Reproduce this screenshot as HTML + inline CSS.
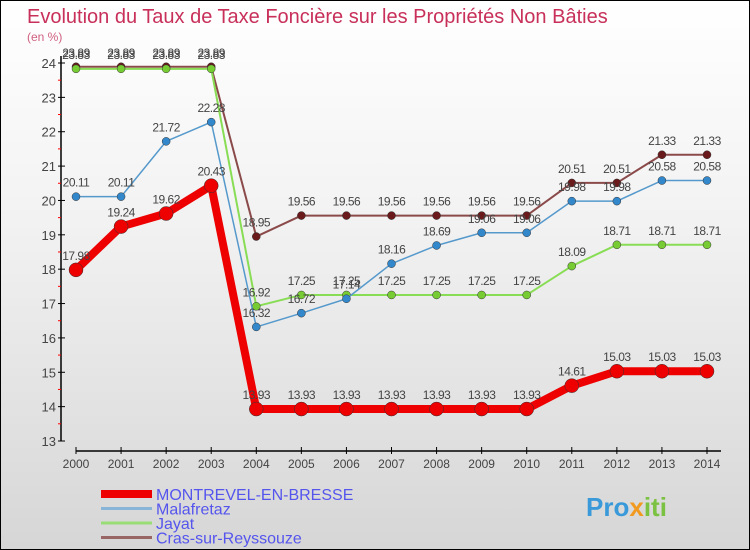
<!DOCTYPE html>
<html><head><meta charset="utf-8"><style>
body{margin:0;}
#c{width:750px;height:550px;position:relative;overflow:hidden;background:linear-gradient(#ffffff,#f2f2f2 40%,#d6d6d6);box-sizing:border-box;border:1px solid #000;font-family:"Liberation Sans",sans-serif;}
svg{position:absolute;left:0;top:0}
</style></head><body>
<div id="c">
<svg id="s" width="750" height="550">
<text x="26" y="22" font-size="20" fill="#c8305a">Evolution du Taux de Taxe Foncière sur les Propriétés Non Bâties</text>
<text x="26" y="40" font-size="12" fill="#d06080">(en %)</text>
</svg>
</div>
<script>
const years=[2000,2001,2002,2003,2004,2005,2006,2007,2008,2009,2010,2011,2012,2013,2014];
const yTicks=[13,14,15,16,17,18,19,20,21,22,23,24];
const montrevel=[17.98,19.24,19.62,20.43,13.93,13.93,13.93,13.93,13.93,13.93,13.93,14.61,15.03,15.03,15.03];
const malafretaz=[20.11,20.11,21.72,22.28,16.32,16.72,17.14,18.16,18.69,19.06,19.06,19.98,19.98,20.58,20.58];
const jayat=[23.83,23.83,23.83,23.83,16.92,17.25,17.25,17.25,17.25,17.25,17.25,18.09,18.71,18.71,18.71];
const cras=[23.89,23.89,23.89,23.89,18.95,19.56,19.56,19.56,19.56,19.56,19.56,20.51,20.51,21.33,21.33];
const NS="http://www.w3.org/2000/svg";
const s=document.getElementById('s');
const xS=i=>75+i*(706-75)/(years.length-1);
const yS=v=>62+(24-v)*(440-62)/11;
function el(t,a,p){const e=document.createElementNS(NS,t);for(const k in a)e.setAttribute(k,a[k]);(p||s).appendChild(e);return e;}
// axes
let ax=el('line',{x1:60,y1:55,x2:60,y2:440,stroke:'#000','stroke-width':1.5});


yTicks.forEach(v=>{
 const y=yS(v);
 el('line',{x1:57,y1:y,x2:64,y2:y,stroke:'#000'});
 if(v<24){el('line',{x1:57,y1:y-17.2,x2:60,y2:y-17.2,stroke:'red'});}
 const t=el('text',{x:55,y:y+5,'font-size':13,fill:'#444','text-anchor':'end'});
 t.textContent=v;
 
 
});
let xa=el('line',{x1:75,y1:450,x2:720,y2:450,stroke:'#000','stroke-width':1.5});


years.forEach((yr,i)=>{
 const x=xS(i);
 el('line',{x1:x,y1:446,x2:x,y2:453,stroke:'#000'});
 const t=el('text',{x:x,y:467,'font-size':12,fill:'#444','text-anchor':'middle'});
 t.textContent=yr;
 
 
});
function series(data,color,dot,w,r,name){
 const g=el('g',{});
 
 
 const p=el('polyline',{points:data.map((v,i)=>xS(i)+','+yS(v)).join(' '),fill:'none',stroke:color,'stroke-width':w,'stroke-linejoin':'round'},g);
 
 
 data.forEach((v,i)=>{
  const c=el('circle',{cx:xS(i),cy:yS(v),r:r,fill:dot,stroke:'#333','stroke-width':0.5},g);
  
  
  const t=el('text',{x:xS(i),y:yS(v)-10,'font-size':12,fill:'#444','text-anchor':'middle','letter-spacing':'-0.5'},g);
  t.textContent=v.toFixed(2);
  
  
 });
}
series(cras,'#8b4a4a','#6a1a1a',2,4,'cras');
series(jayat,'#88dd55','#77cc33',2,4,'jayat');
series(malafretaz,'#5599cc','#3388cc',1.5,4,'malafretaz');
series(montrevel,'#ee0000','#ee0000',8,7,'montrevel');
// legend
const legNames=['MONTREVEL-EN-BRESSE','Malafretaz','Jayat','Cras-sur-Reyssouze'];
const legColors=['#ee0000','#88b4d8','#99dd77','#996666'];
const legW=[8,3,3,3];
legNames.forEach((n,i)=>{
 const y=493+i*14.5;
 const g=el('g',{});
 
 
 el('line',{x1:100,y1:y,x2:151,y2:y,stroke:legColors[i],'stroke-width':legW[i]},g);
 const t=el('text',{x:155,y:y+6,'font-size':16,fill:'#5555ee'},g);
 t.textContent=n;
});
// logo
const lg=el('text',{x:585,y:515,'font-size':26,'font-weight':'bold',fill:'#3a9ad9'});
lg.innerHTML='<tspan fill="#3a9ad9">Pro</tspan><tspan fill="#f29a1f">x</tspan><tspan fill="#7cc242">iti</tspan>';


</script>
</body></html>
